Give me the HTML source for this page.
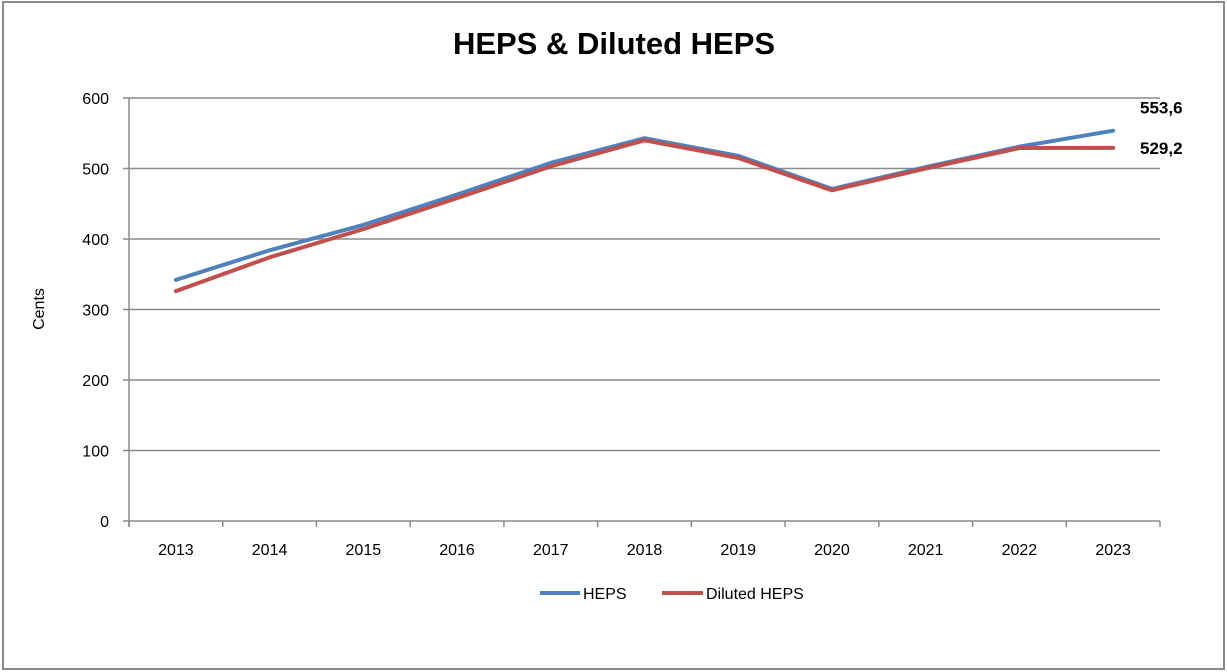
<!DOCTYPE html>
<html><head><meta charset="utf-8"><style>
html,body{margin:0;padding:0;background:#fff;}
svg{display:block;font-family:"Liberation Sans",sans-serif;}
</style></head><body>
<svg id="chart" width="1227" height="672">
<rect x="3" y="2" width="1221" height="667" fill="#fff" stroke="#8a8a8a" stroke-width="2"/>
<text x="614" y="54" text-anchor="middle" font-size="31" font-weight="bold">HEPS &amp; Diluted HEPS</text>
<text transform="translate(44,309) rotate(-90)" text-anchor="middle" font-size="16">Cents</text>
<g id="grid"></g><g id="axes"></g><g id="series"></g>
<g>
<line x1="540" y1="593" x2="580" y2="593" stroke="#4f81bd" stroke-width="4"/>
<text x="583" y="599" font-size="16">HEPS</text>
<line x1="662" y1="593" x2="703" y2="593" stroke="#c0504d" stroke-width="4"/>
<text x="706" y="599" font-size="16">Diluted HEPS</text>
</g>
</svg>
<script>
const categories = ["2013","2014","2015","2016","2017","2018","2019","2020","2021","2022","2023"];
const heps = [342,384,420,463,508,543,518,471,502,531,553.6];
const diluted = [326,374,414,458,503,540,515,469,500,529,529.2];
const yTicks = [0,100,200,300,400,500,600];
const lastLabels = ["553,6","529,2"];

const NS="http://www.w3.org/2000/svg";
const L=129,R=1160,T=98,B=521,yMax=600;
const step=(R-L)/categories.length;
const xs=i=>L+step*(i+0.5);
const ys=v=>B-(v/yMax)*(B-T);
function mk(tag,attrs,parent){const e=document.createElementNS(NS,tag);for(const k in attrs)e.setAttribute(k,attrs[k]);parent.appendChild(e);return e;}
const grid=document.getElementById('grid'),axes=document.getElementById('axes'),ser=document.getElementById('series');
yTicks.forEach(t=>{
  const y=ys(t);
  if(t>0){const g=mk('line',{x1:L,x2:R,y1:y,y2:y,stroke:'#8c8c8c','stroke-width':1.5},grid);
  
  }
  const tk=mk('line',{x1:L-6,x2:L,y1:y,y2:y,stroke:'#8c8c8c','stroke-width':1.5},axes);
  
  
  const tx=mk('text',{x:L-20,y:y+6,'text-anchor':'end','font-size':16},axes);tx.textContent=t;
  
  
});
const ya=mk('line',{x1:L,x2:L,y1:T,y2:B+6,stroke:'#8c8c8c','stroke-width':1.5},axes);


const xa=mk('line',{x1:L,x2:R,y1:B,y2:B,stroke:'#8c8c8c','stroke-width':1.5},axes);


for(let i=0;i<=categories.length;i++){const x=L+step*i;
  const tk=mk('line',{x1:x,x2:x,y1:B,y2:B+6,stroke:'#8c8c8c','stroke-width':1.5},axes);
  
  }
categories.forEach((c,i)=>{const tx=mk('text',{x:xs(i),y:B+34,'text-anchor':'middle','font-size':16},axes);tx.textContent=c;
  
  });
function line(data,color,name){
  const p=mk('polyline',{points:data.map((v,i)=>xs(i)+','+ys(v)).join(' '),fill:'none',stroke:color,'stroke-width':4,'stroke-linejoin':'round','stroke-linecap':'round'},ser);
  
  
}
line(heps,'#4f81bd','heps-line');
line(diluted,'#c0504d','diluted-heps-line');
const l1=mk('text',{x:1140,y:ys(heps[heps.length-1])-17,'font-size':17,'font-weight':'bold'},ser);l1.textContent=lastLabels[0];


const l2=mk('text',{x:1140,y:ys(diluted[diluted.length-1])+6,'font-size':17,'font-weight':'bold'},ser);l2.textContent=lastLabels[1];


</script>
</body></html>
